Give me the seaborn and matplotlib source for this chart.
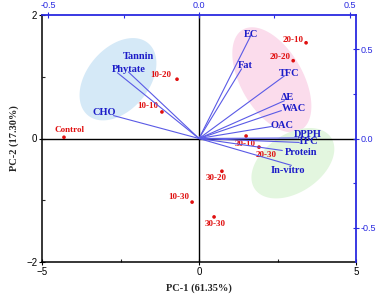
import numpy as np
import pandas as pd
import matplotlib
matplotlib.use("Agg")
import matplotlib.pyplot as plt
import seaborn as sns

# ---- data ----
samples = ["Control", "10-10", "10-20", "10-30", "20-10", "20-20", "20-30", "30-10", "30-20", "30-30"]
pc1 = [-4.3, -1.18, -0.7, -0.22, 3.41, 3.0, 1.91, 1.5, 0.73, 0.48]
pc2 = [0.02, 0.43, 0.96, -1.03, 1.55, 1.26, -0.14, 0.04, -0.53, -1.27]

variables = ["Tannin", "Phytate", "CHO", "EC", "Fat", "TFC", "ΔE", "WAC", "OAC", "DPPH", "TPC", "Protein", "In-vitro"]
load1 = [-0.234, -0.27, -0.283, 0.174, 0.141, 0.283, 0.283, 0.273, 0.24, 0.326, 0.332, 0.276, 0.306]
load2 = [0.372, 0.367, 0.128, 0.583, 0.389, 0.35, 0.211, 0.156, 0.067, 0.003, -0.022, -0.067, -0.15]

x_ticks = [-5, 0, 5]
y_ticks = [-2, 0, 2]
top_ticks = [-0.5, 0.0, 0.5]
right_ticks = [-0.5, 0.0, 0.5]

scores = pd.DataFrame({"sample": samples, "PC1": pc1, "PC2": pc2})
loads = pd.DataFrame({"var": variables, "L1": load1, "L2": load2})

# ---- style ----
sns.set_style("white")
plt.rcParams["font.family"] = ["Liberation Sans", "DejaVu Sans"]
SERIF = ["Liberation Serif", "DejaVu Serif"]
BLUE = "#1c1cc8"
LBLUE = "#5a5ae6"
RED = "#e01010"
AXBLUE = "#2a2ae0"

fig = plt.figure(figsize=(3.8, 3.0), dpi=100)
pos = [42 / 380, 38 / 300, 314 / 380, 247 / 300]
ax = fig.add_axes(pos)
ax2 = fig.add_axes(pos, frameon=False)

ax.set_xlim(-5, 5)
ax.set_ylim(-2, 2)
ax2.set_xlim(-0.52, 0.52)
ax2.set_ylim(-0.69, 0.69)

# ellipses (pixel-sized, placed in score coordinates)
px_x = 314 / 10.0
px_y = 247 / 4.0
ellipses = [
    ((-2.58, 0.96), 47, 31, 50, "#d5e9f7"),
    ((2.32, 0.95), 58, 31, -60, "#fbdcec"),
    ((2.99, -0.40), 46, 29, 34, "#e3f6df"),
]
t = np.linspace(0, 2 * np.pi, 200)
for (cx, cy), a, b, ang, col in ellipses:
    th = np.deg2rad(ang)
    dx = a * np.cos(t) * np.cos(th) - b * np.sin(t) * np.sin(th)
    dy = a * np.cos(t) * np.sin(th) + b * np.sin(t) * np.cos(th)
    ax.fill(cx + dx / px_x, cy + dy / px_y, color=col, lw=0, zorder=0)

ax.axhline(0, color="black", lw=1.0, zorder=1)
ax.axvline(0, color="black", lw=1.0, zorder=1)

sns.scatterplot(data=scores, x="PC1", y="PC2", ax=ax, color=RED, s=7,
                edgecolor="none", zorder=5, legend=False)

# sample label offsets (points)
s_off = {
    "Control": (4, 5, "center"), "10-10": (-3, 4, "right"), "10-20": (-4, 3, "right"),
    "10-30": (-2, 4, "right"), "20-10": (-2, 2, "right"), "20-20": (-2, 3, "right"),
    "20-30": (5, -6, "center"), "30-10": (-1, -6, "center"), "30-20": (-4, -5, "center"),
    "30-30": (1, -5, "center"),
}
for s_, x, y in zip(samples, pc1, pc2):
    ox, oy, ha = s_off[s_]
    ax.annotate(s_, (x, y), xytext=(ox, oy), textcoords="offset points",
                ha=ha, va="center", color=RED, fontsize=6.5, fontweight="bold",
                family=SERIF, zorder=6)

# loadings
for v, x, y in zip(variables, load1, load2):
    ax2.plot([0, x], [0, y], color=LBLUE, lw=0.8, zorder=3)

lab_pos = {
    "Tannin": (-0.202, 0.458), "Phytate": (-0.234, 0.386), "CHO": (-0.314, 0.147),
    "EC": (0.174, 0.581), "Fat": (0.155, 0.408), "TFC": (0.299, 0.364),
    "ΔE": (0.293, 0.231), "WAC": (0.316, 0.169), "OAC": (0.276, 0.075),
    "DPPH": (0.359, 0.025), "TPC": (0.362, -0.019), "Protein": (0.339, -0.081),
    "In-vitro": (0.296, -0.181),
}
for v in variables:
    lx, ly = lab_pos[v]
    ax2.text(lx, ly, v, ha="center", va="center", color=BLUE, fontsize=7.5,
             fontweight="bold", family=SERIF, zorder=4)

# axes styling
ax.set_xticks(x_ticks)
ax.set_yticks(y_ticks)
ax.set_xticks([-2.5, 2.5], minor=True)
ax.set_yticks([-1, 1], minor=True)
ax.tick_params(axis="both", which="major", direction="inout", length=4, width=0.8,
               labelsize=7, pad=1.5, colors="black",
               bottom=True, left=True, top=False, right=False)
ax.tick_params(axis="both", which="minor", direction="in", length=2.5, width=0.8,
               bottom=True, left=True, top=False, right=False)
for sp in ["left", "bottom"]:
    ax.spines[sp].set_color("black")
    ax.spines[sp].set_linewidth(1.1)
for sp in ["top", "right"]:
    ax.spines[sp].set_visible(False)
ax.set_xlabel("PC-1 (61.35%)", fontsize=7.5, fontweight="bold", family=SERIF, labelpad=5)
ax.set_ylabel("PC-2 (17.30%)", fontsize=7.5, fontweight="bold", family=SERIF, labelpad=5)

ax2.xaxis.tick_top()
ax2.yaxis.tick_right()
ax2.set_xticks(top_ticks)
ax2.set_yticks(right_ticks)
ax2.set_xticklabels(["-0.5", "0.0", "0.5"])
ax2.set_yticklabels(["-0.5", "0.0", "0.5"])
ax2.set_xticks([-0.25, 0.25], minor=True)
ax2.set_yticks([-0.25, 0.25], minor=True)
ax2.tick_params(axis="both", which="major", direction="inout", length=4, width=0.8,
                labelsize=6.5, pad=1.5, colors=AXBLUE,
                top=True, right=True, bottom=False, left=False,
                labeltop=True, labelright=True, labelbottom=False, labelleft=False)
ax2.tick_params(axis="both", which="minor", direction="in", length=2.5, width=0.8,
                colors=AXBLUE, top=True, right=True, bottom=False, left=False)
ax2.set_frame_on(True)
for sp in ["top", "right"]:
    ax2.spines[sp].set_visible(True)
    ax2.spines[sp].set_color(AXBLUE)
    ax2.spines[sp].set_linewidth(1.3)
for sp in ["left", "bottom"]:
    ax2.spines[sp].set_visible(False)
ax2.patch.set_visible(False)

fig.savefig("out.png", dpi=100)
